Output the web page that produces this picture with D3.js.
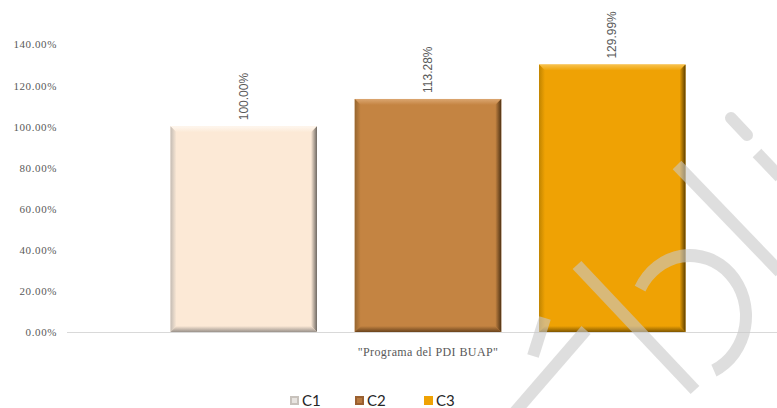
<!DOCTYPE html>
<html><head><meta charset="utf-8">
<script src="https://cdn.jsdelivr.net/npm/d3@7"></script>
<style>html,body{margin:0;padding:0;background:#fff;overflow:hidden}</style>
</head><body>
<svg id="c" width="777" height="408"></svg>
<script>
const categories = ["\"Programa del PDI BUAP\""];
const series = ["C1", "C2", "C3"];
const values = [100.00, 113.28, 129.99];
const valueLabels = ["100.00%", "113.28%", "129.99%"];
const yTicks = [0, 20, 40, 60, 80, 100, 120, 140];
const yTickLabels = ["0.00%", "20.00%", "40.00%", "60.00%", "80.00%", "100.00%", "120.00%", "140.00%"];

const colors = {
  C1: {fill:"#fce9d6", top:"#fef7ef", left:"#c4bcb4", right:"#6e6862", bottom:"#9a928b", leg:"#c8c2bc"},
  C2: {fill:"#c48442", top:"#dba670", left:"#96652f", right:"#4f3214", bottom:"#6a431c", leg:"#9a6030"},
  C3: {fill:"#efa204", top:"#f7c24e", left:"#c08400", right:"#5c3e00", bottom:"#7f5600", leg:"#efa204"}
};

const svg = d3.select("#c");
const W = 777, H = 408;
const plotL = 67, plotR = 789, y0px = 332, yTopPx = 44;

const x0 = d3.scaleBand().domain(categories).range([plotL, plotR]).paddingOuter(0.201);
const x1 = d3.scaleBand().domain(series).range([0, x0.bandwidth()]).paddingInner(0.205);
const y = d3.scaleLinear().domain([0, 140]).range([y0px, yTopPx]);

const defs = svg.append("defs");

// Axis line
svg.append("line").attr("x1", plotL).attr("x2", W).attr("y1", y(0)+0.5).attr("y2", y(0)+0.5)
  .attr("stroke", "#d9d9d9").attr("stroke-width", 1);

// Y axis labels via d3 axis
const yAxis = d3.axisLeft(y).tickValues(yTicks).tickSize(0).tickPadding(0)
  .tickFormat((d,i) => yTickLabels[i]);
const ga = svg.append("g").attr("transform", `translate(57,0)`).call(yAxis);
ga.select(".domain").remove();
ga.selectAll("text").attr("font-family", "Liberation Serif, serif").attr("font-size", 11)
  .attr("letter-spacing", 0.6)
  .attr("fill", "#595959").attr("dy", "0.35em");

// Bars with bevel
const b = 6;
const g = svg.append("g");
series.forEach((s, i) => {
  const bx0 = x0(categories[0]) + x1(s);
  const bx1 = bx0 + x1.bandwidth();
  const by0 = y(values[i]);
  const by1 = y(0);
  const c = colors[s];
  // gradients for faces
  const mk = (id, x1_, y1_, x2_, y2_, a, bcol) => {
    const lg = defs.append("linearGradient").attr("id", id).attr("x1", x1_).attr("y1", y1_).attr("x2", x2_).attr("y2", y2_);
    lg.append("stop").attr("offset", "0%").attr("stop-color", a);
    lg.append("stop").attr("offset", "100%").attr("stop-color", bcol);
  };
  mk("gt"+s, 0, 0, 0, 1, c.top, c.fill);
  mk("gr"+s, 0, 0, 1, 0, c.fill, c.right);
  mk("gb"+s, 0, 0, 0, 1, c.fill, c.bottom);
  mk("gl"+s, 0, 0, 1, 0, c.left, c.fill);
  const gg = g.append("g");
  gg.append("rect").attr("x", bx0).attr("y", by0).attr("width", bx1-bx0).attr("height", by1-by0).attr("fill", c.fill);
  const poly = (pts, fill) => gg.append("polygon").attr("points", pts.map(p=>p.join(",")).join(" ")).attr("fill", fill);
  poly([[bx0,by0],[bx1,by0],[bx1-b,by0+b],[bx0+b,by0+b]], `url(#gt${s})`);
  poly([[bx0,by0],[bx0+b,by0+b],[bx0+b,by1-b],[bx0,by1]], `url(#gl${s})`);
  poly([[bx1,by0],[bx1,by1],[bx1-b,by1-b],[bx1-b,by0+b]], `url(#gr${s})`);
  poly([[bx0,by1],[bx1,by1],[bx1-b,by1-b],[bx0+b,by1-b]], `url(#gb${s})`);
  // value label
  const cx = (bx0+bx1)/2;
  svg.append("text").attr("transform", `translate(${cx+4},${by0-6}) rotate(-90)`)
    .attr("font-family", "Liberation Sans, Arial, sans-serif").attr("font-size", 12)
    .attr("fill", "#595959").text(valueLabels[i]);
});

// Category label
svg.append("text").attr("x", x0(categories[0]) + x0.bandwidth()/2).attr("y", 356)
  .attr("text-anchor", "middle").attr("font-family", "Liberation Serif, serif").attr("font-size", 12)
  .attr("letter-spacing", 0.4)
  .attr("fill", "#595959").text(categories[0]);

// Legend
const legX = [290, 355, 424];
series.forEach((s, i) => {
  const c = colors[s];
  svg.append("rect").attr("x", legX[i]).attr("y", 396).attr("width", 9).attr("height", 9).attr("fill", c.leg);
  if (s !== "C3") {
    svg.append("rect").attr("x", legX[i]+2).attr("y", 398).attr("width", 5).attr("height", 5).attr("fill", s==="C1" ? "#e8e4e0" : "#b87a40");
  }
  svg.append("text").attr("x", legX[i]+12).attr("y", 406).attr("font-family", "Lato, Open Sans, sans-serif")
    .attr("font-size", 15).attr("fill", "#262626").text(s);
});

// Watermark (decorative)
const wm = svg.append("g").attr("fill", "none").attr("stroke", "#c8c8c8").attr("stroke-opacity", 0.6).attr("stroke-width", 12);
wm.append("line").attr("x1", 577).attr("y1", 265).attr("x2", 695).attr("y2", 390);
wm.append("line").attr("x1", 586).attr("y1", 330).attr("x2", 515).attr("y2", 412);
wm.append("line").attr("x1", 545).attr("y1", 318).attr("x2", 533).attr("y2", 356);
wm.append("line").attr("x1", 677).attr("y1", 165).attr("x2", 780).attr("y2", 272);
wm.append("line").attr("x1", 731).attr("y1", 118).attr("x2", 747).attr("y2", 135).attr("stroke-linecap", "round");
wm.append("line").attr("x1", 757).attr("y1", 153).attr("x2", 780).attr("y2", 177);
wm.append("path").attr("d", d3.arc()({innerRadius:50, outerRadius:62, startAngle:-1.1, endAngle:2.7}))
  .attr("transform", "translate(690,316) scale(1,1.08)").attr("fill", "#c8c8c8").attr("fill-opacity", 0.6).attr("stroke", "none");
</script>
</body></html>
